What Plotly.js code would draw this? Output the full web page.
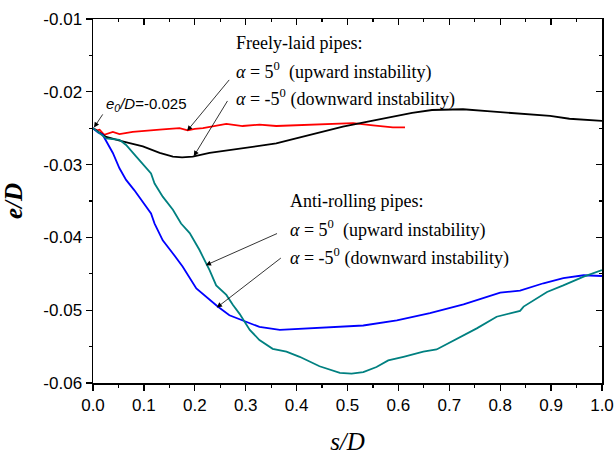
<!DOCTYPE html>
<html><head><meta charset="utf-8">
<script src="https://cdn.plot.ly/plotly-3.0.1.min.js"></script>
<style>body{margin:0;background:#fff}#c{width:616px;height:455px}</style>
</head><body><div id="c"></div>
<script>
// Freely-laid, alpha = 5 (upward) - red
const redS = [0,0.008,0.013,0.022,0.039,0.052,0.078,0.105,0.131,0.15,0.17,0.186,0.2,0.216,0.24,0.262,0.294,0.327,0.36,0.393,0.43,0.47,0.511,0.55,0.589,0.613];
const redE = [-0.0250,-0.0253,-0.0252,-0.0259,-0.0255,-0.0258,-0.0255,-0.0254,-0.0252,-0.0251,-0.0250,-0.0253,-0.0251,-0.0250,-0.0247,-0.0244,-0.0247,-0.0245,-0.0247,-0.0246,-0.0245,-0.0244,-0.0243,-0.0246,-0.0249,-0.0249];
// Freely-laid, alpha = -5 (downward) - black
const blackS = [0,0.026,0.058,0.098,0.131,0.157,0.175,0.196,0.229,0.294,0.36,0.393,0.44,0.491,0.54,0.589,0.627,0.666,0.704,0.727,0.781,0.82,0.859,0.898,0.936,1.0];
const blackE = [-0.0250,-0.0262,-0.0268,-0.0275,-0.0284,-0.0289,-0.0290,-0.0289,-0.0284,-0.0278,-0.0271,-0.0265,-0.0257,-0.0248,-0.0241,-0.0234,-0.0229,-0.0225,-0.0224,-0.0224,-0.0227,-0.0229,-0.0231,-0.0233,-0.0237,-0.0240];
// Anti-rolling, alpha = -5 (downward) - blue
const blueS = [0,0.01,0.019,0.029,0.039,0.052,0.065,0.081,0.098,0.114,0.121,0.137,0.157,0.176,0.203,0.229,0.245,0.268,0.294,0.327,0.367,0.419,0.466,0.531,0.597,0.662,0.728,0.774,0.80,0.839,0.885,0.924,0.964,1.0];
const blueE = [-0.0250,-0.0256,-0.0259,-0.0271,-0.0284,-0.0305,-0.0321,-0.0335,-0.0351,-0.0367,-0.0381,-0.0404,-0.0422,-0.0440,-0.0470,-0.0486,-0.0495,-0.0507,-0.0514,-0.0523,-0.0527,-0.0525,-0.0524,-0.0521,-0.0514,-0.0504,-0.0492,-0.0482,-0.0476,-0.0473,-0.0463,-0.0456,-0.0452,-0.0453];
// Anti-rolling, alpha = 5 (upward) - teal
const tealS = [0,0.026,0.052,0.065,0.085,0.098,0.114,0.121,0.137,0.157,0.173,0.19,0.209,0.229,0.242,0.262,0.275,0.288,0.308,0.327,0.353,0.38,0.406,0.445,0.485,0.508,0.531,0.557,0.58,0.61,0.649,0.675,0.715,0.754,0.793,0.82,0.839,0.846,0.872,0.892,0.924,0.964,1.0];
const tealE = [-0.0250,-0.0264,-0.0266,-0.0273,-0.0289,-0.0300,-0.0312,-0.0326,-0.0344,-0.0362,-0.0381,-0.0394,-0.0417,-0.0445,-0.0466,-0.0479,-0.0493,-0.0505,-0.0527,-0.0541,-0.0553,-0.0557,-0.0564,-0.0577,-0.0586,-0.0587,-0.0585,-0.0578,-0.0569,-0.0564,-0.0557,-0.0554,-0.0539,-0.0525,-0.0509,-0.0504,-0.0501,-0.0495,-0.0484,-0.0475,-0.0466,-0.0454,-0.0445];

const xTicks = [0,0.1,0.2,0.3,0.4,0.5,0.6,0.7,0.8,0.9,1.0];
const xTickText = ['0.0','0.1','0.2','0.3','0.4','0.5','0.6','0.7','0.8','0.9','1.0'];
const yTicks = [-0.06,-0.05,-0.04,-0.03,-0.02,-0.01];
const yTickText = ['-0.06','-0.05','-0.04','-0.03','-0.02','-0.01'];

const lw = 1.8;
const traces = [
  {x: redS, y: redE, mode:'lines', line:{color:'#ff0000', width:lw}},
  {x: blackS, y: blackE, mode:'lines', line:{color:'#000000', width:lw}},
  {x: blueS, y: blueE, mode:'lines', line:{color:'#0000ff', width:lw}},
  {x: tealS, y: tealE, mode:'lines', line:{color:'#008080', width:lw}},
  {x:[null], y:[null], xaxis:'x2', yaxis:'y2', mode:'lines', showlegend:false, hoverinfo:'skip'}
];

const tf = {family:'"Liberation Serif", "Times New Roman", serif', size:18, color:'#000'};
function arrow(tx, ty, hx, hy){
  return {x:hx, y:hy, ax:tx, ay:ty, xref:'x', yref:'y', axref:'x', ayref:'y', text:'', showarrow:true,
    arrowhead:2, arrowsize:1.3, arrowwidth:0.8, arrowcolor:'#000'};
}
function label(x, y, txt, font){
  return {x:x, y:y, xref:'x', yref:'y', text:txt, showarrow:false, xanchor:'left', yanchor:'middle', font:font||tf};
}
const annotations = [
  label(0.2766, -0.01326, 'Freely-laid pipes:'),
  label(0.2766, -0.01711, '<i>α</i> = 5<sup>0</sup>&nbsp; (upward instability)'),
  label(0.2766, -0.02083, '<i>α</i> = -5<sup>0</sup> (downward instability)'),
  label(0.383, -0.0350, 'Anti-rolling pipes:'),
  label(0.383, -0.03885, '<i>α</i> = 5<sup>0</sup>&nbsp; (upward instability)'),
  label(0.383, -0.04270, '<i>α</i> = -5<sup>0</sup> (downward instability)'),
  label(0.022, -0.0217, '<i>e</i><sub><i>0</i></sub><i>/D</i>=-0.025', {family:'"Liberation Sans", Arial, sans-serif', size:15, color:'#000'}),
  arrow(0.270, -0.01816, 0.185, -0.02536),
  arrow(0.266, -0.02105, 0.198, -0.02884),
  arrow(0.3645, -0.03938, 0.2216, -0.04382),
  arrow(0.372, -0.04268, 0.2432, -0.04964),
  arrow(0.021, -0.0229, 0.002, -0.0249)
];

const tickFont = {family:'"Liberation Sans", Arial, sans-serif', size:17, color:'#000'};
const layout = {
  width:616, height:455,
  margin:{l:93, r:14, t:19, b:72},
  paper_bgcolor:'#fff', plot_bgcolor:'#fff',
  showlegend:false,
  xaxis:{range:[0,1], tickvals:xTicks, ticktext:xTickText, ticks:'outside', ticklen:6, tickwidth:1.2, tickcolor:'#000',
    minor:{dtick:0.05, ticks:'outside', ticklen:3, tickcolor:'#000', tickwidth:1.2},
    showline:true, linecolor:'#000', linewidth:1.5, showgrid:false, zeroline:false, tickfont:tickFont,
    title:{text:'<i>s/D</i>', font:{family:'"Liberation Serif", "Times New Roman", serif', size:25, color:'#000'}, standoff:22}},
  yaxis:{range:[-0.06,-0.01], tickvals:yTicks, ticktext:yTickText, ticks:'outside', ticklen:6, tickwidth:1.2, tickcolor:'#000',
    minor:{dtick:0.005, ticks:'outside', ticklen:3, tickcolor:'#000', tickwidth:1.2},
    showline:true, linecolor:'#000', linewidth:1.5, showgrid:false, zeroline:false, tickfont:tickFont,
    title:{text:'<i><b>e/D</b></i>', font:{family:'"Liberation Serif", "Times New Roman", serif', size:25, color:'#000'}, standoff:14}},
  xaxis2:{overlaying:'x', side:'top', anchor:'y2', range:[0,1], tickvals:xTicks, ticks:'inside', ticklen:6, tickwidth:1.2, tickcolor:'#000',
    minor:{dtick:0.05, ticks:'inside', ticklen:3, tickcolor:'#000', tickwidth:1.2},
    showticklabels:false, showline:true, linecolor:'#000', linewidth:1.5, showgrid:false, zeroline:false},
  yaxis2:{overlaying:'y', side:'right', anchor:'x2', range:[-0.06,-0.01], tickvals:yTicks, ticks:'inside', ticklen:6, tickwidth:1.2, tickcolor:'#000',
    minor:{dtick:0.005, ticks:'inside', ticklen:3, tickcolor:'#000', tickwidth:1.2},
    showticklabels:false, showline:true, linecolor:'#000', linewidth:1.5, showgrid:false, zeroline:false},
  annotations:annotations
};
Plotly.newPlot('c', traces, layout, {displayModeBar:false, staticPlot:true});
</script></body></html>
